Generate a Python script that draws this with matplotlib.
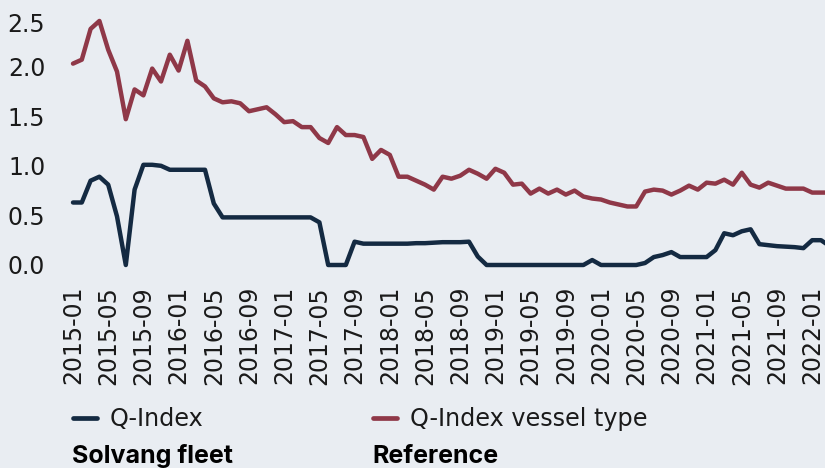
import numpy as np
import matplotlib
matplotlib.use("Agg")
import matplotlib.pyplot as plt
from matplotlib.lines import Line2D
from matplotlib.transforms import ScaledTranslation

W, H = 825, 468
BG = "#E9EDF2"
NAVY = "#142A42"
RED = "#8F3848"
TXT = "#1A1A1A"

months = [f"{2015 + i // 12}-{i % 12 + 1:02d}" for i in range(87)]

fleet = [0.63, 0.63, 0.85, 0.89, 0.81, 0.49, 0.00, 0.76, 1.01, 1.01,
         1.00, 0.96, 0.96, 0.96, 0.96, 0.96, 0.62, 0.48, 0.48, 0.48,
         0.48, 0.48, 0.48, 0.48, 0.48, 0.48, 0.48, 0.48, 0.43, 0.00,
         0.00, 0.00, 0.235, 0.215, 0.215, 0.215, 0.215, 0.215, 0.215, 0.22,
         0.22, 0.225, 0.23, 0.23, 0.23, 0.235, 0.085, 0.00, 0.00, 0.00,
         0.00, 0.00, 0.00, 0.00, 0.00, 0.00, 0.00, 0.00, 0.00, 0.05,
         0.00, 0.00, 0.00, 0.00, 0.00, 0.02, 0.08, 0.10, 0.13, 0.08,
         0.08, 0.08, 0.08, 0.15, 0.32, 0.30, 0.34, 0.36, 0.21, 0.20,
         0.19, 0.185, 0.18, 0.17, 0.25, 0.25, 0.19]

vessel_type = [2.03, 2.07, 2.38, 2.46, 2.17, 1.95, 1.47, 1.77, 1.71, 1.98,
               1.85, 2.12, 1.96, 2.26, 1.86, 1.80, 1.68, 1.64, 1.65, 1.63,
               1.55, 1.57, 1.59, 1.52, 1.44, 1.45, 1.39, 1.39, 1.28, 1.23,
               1.39, 1.31, 1.31, 1.29, 1.07, 1.16, 1.11, 0.89, 0.89, 0.85,
               0.81, 0.76, 0.89, 0.87, 0.90, 0.96, 0.92, 0.87, 0.97, 0.93,
               0.81, 0.82, 0.72, 0.77, 0.72, 0.76, 0.71, 0.75, 0.69, 0.67,
               0.66, 0.63, 0.61, 0.59, 0.59, 0.74, 0.76, 0.75, 0.71, 0.75,
               0.80, 0.76, 0.83, 0.82, 0.86, 0.81, 0.93, 0.81, 0.78, 0.83,
               0.80, 0.77, 0.77, 0.77, 0.73, 0.73, 0.73]

yticks = [0.0, 0.5, 1.0, 1.5, 2.0, 2.5]


def fx(px):
    return px / W


def fy(py):
    return (H - py) / H


plt.rcParams["font.family"] = "DejaVu Sans"
fig = plt.figure(figsize=(W / 100, H / 100), dpi=100, facecolor=BG)
ax = fig.add_axes([fx(55), fy(272), fx(825) - fx(55), fy(10) - fy(272)])
ax.set_facecolor(BG)

x = np.arange(len(months))
ax.plot(x, fleet, color=NAVY, lw=3.2, solid_joinstyle="round", solid_capstyle="round")
ax.plot(x, vessel_type, color=RED, lw=3.2, solid_joinstyle="round", solid_capstyle="round")

ax.set_xlim(-18 / 8.8, (825 - 73) / 8.8)
ax.set_ylim(-7 / 99.2, 2.5 + 7 / 99.2)

for s in ax.spines.values():
    s.set_visible(False)

ax.set_yticks(yticks)
ax.set_yticklabels([f"{v:.1f}" for v in yticks])
ax.set_xticks(x[::4][:22])
ax.set_xticklabels(months[::4][:22], rotation=90)
ax.tick_params(axis="both", length=0, labelsize=17, labelcolor=TXT)
ax.tick_params(axis="y", pad=7)
ax.tick_params(axis="x", pad=10)

# top label sits a little below its tick
top = ax.get_yticklabels()[-1]
top.set_transform(top.get_transform() + ScaledTranslation(0, -6 / 100, fig.dpi_scale_trans))

# legend drawn by hand: line sample, label, bold group title
for x0, col, lab, title in [(73, NAVY, "Q-Index", "Solvang fleet"),
                            (373, RED, "Q-Index vessel type", "Reference")]:
    fig.add_artist(Line2D([fx(x0), fx(x0 + 24)], [fy(418), fy(418)], color=col,
                          lw=3.4, solid_capstyle="round", transform=fig.transFigure))
    fig.text(fx(x0 + 37), fy(419), lab, fontsize=17.2, color=TXT, va="center")
    fig.text(fx(x0 - 1), fy(463), title, fontsize=18, color="black",
             family="Inter", fontweight="bold", va="baseline")

fig.savefig("out.png", dpi=100, facecolor=BG)
